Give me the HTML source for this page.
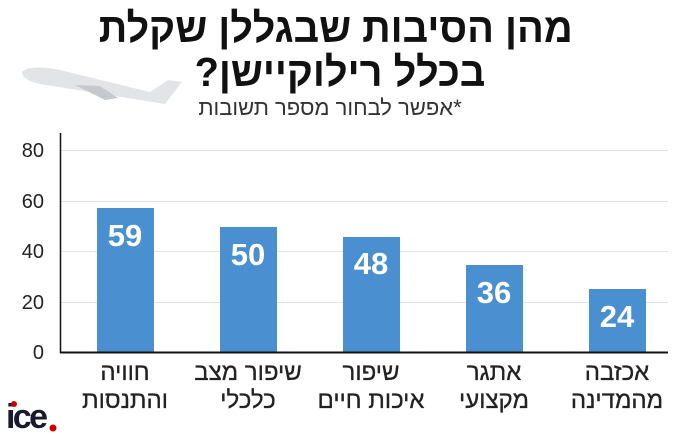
<!DOCTYPE html>
<html><head><meta charset="utf-8"><style>
body{margin:0;width:696px;height:439px;background:#fff;overflow:hidden;position:relative;font-family:"Liberation Sans","Noto Sans CJK SC",sans-serif}
.t{position:absolute;direction:rtl;text-align:center;white-space:nowrap}
.l{font-size:24px;line-height:28px;color:#222;-webkit-text-stroke:0.3px #222}
</style></head><body>
<svg width="696" height="439" style="position:absolute;left:0;top:0">
<g>
<path d="M22 72 Q30 64 60 70 L150 92 L168 80 L182 82 L165 104 L140 100 L40 84 Q22 80 22 72Z" fill="#e2e4e8"/>
<path d="M75 85 L105 100 L118 98 L100 86Z" fill="#c5c8cd"/>
</g>
</svg>
<div class="t" style="left:100px;width:480px;top:6px;font-size:41px;font-weight:bold;line-height:44px;color:#111;transform:scaleX(0.97)">מהן הסיבות שבגללן שקלת<br>בכלל רילוקיישן?</div>
<div class="t" style="left:195px;width:270px;top:95px;font-size:22px;color:#333">*אפשר לבחור מספר תשובות</div>
<svg width="696" height="439" style="position:absolute;left:0;top:0">
<g stroke="#e3e3e3" stroke-width="1">
<line x1="61" x2="668" y1="150.5" y2="150.5"/><line x1="61" x2="668" y1="201.5" y2="201.5"/>
<line x1="61" x2="668" y1="251.5" y2="251.5"/><line x1="61" x2="668" y1="302.5" y2="302.5"/>
</g>
<g fill="#4a90d0">
<rect x="97" y="208" width="57" height="144"/>
<rect x="220" y="227" width="57" height="125"/>
<rect x="343" y="237" width="57" height="115"/>
<rect x="466" y="265" width="57" height="87"/>
<rect x="589" y="289" width="57" height="63"/>
</g>
<line x1="60.5" y1="133" x2="60.5" y2="353" stroke="#111" stroke-width="1.5"/>
<line x1="60" y1="352.5" x2="668" y2="352.5" stroke="#111" stroke-width="2"/>
<g font-size="20" fill="#222" text-anchor="end" font-family="Liberation Sans">
<text x="44" y="157">80</text><text x="44" y="208">60</text><text x="44" y="258">40</text><text x="44" y="309">20</text><text x="44" y="359">0</text>
</g>
<g font-size="31" font-weight="bold" fill="#fff" text-anchor="middle" font-family="Liberation Sans">
<text x="125" y="246">59</text><text x="248" y="265">50</text><text x="371" y="274">48</text><text x="494" y="303">36</text><text x="617" y="327">24</text>
</g>
<text x="6" y="428" font-size="34" font-weight="bold" fill="#1a1a2e" font-family="Liberation Sans" textLength="42">ice</text>
<circle cx="14" cy="404" r="3" fill="#c00"/>
<circle cx="53" cy="428" r="3.5" fill="#c00"/>
</svg>
<div class="t l" style="left:65px;width:120px;top:359px">חוויה<br>והתנסות</div>
<div class="t l" style="left:183px;width:130px;top:359px">שיפור מצב<br>כלכלי</div>
<div class="t l" style="left:306px;width:130px;top:359px">שיפור<br>איכות חיים</div>
<div class="t l" style="left:434px;width:120px;top:359px">אתגר<br>מקצועי</div>
<div class="t l" style="left:557px;width:120px;top:359px">אכזבה<br>מהמדינה</div>
</body></html>
